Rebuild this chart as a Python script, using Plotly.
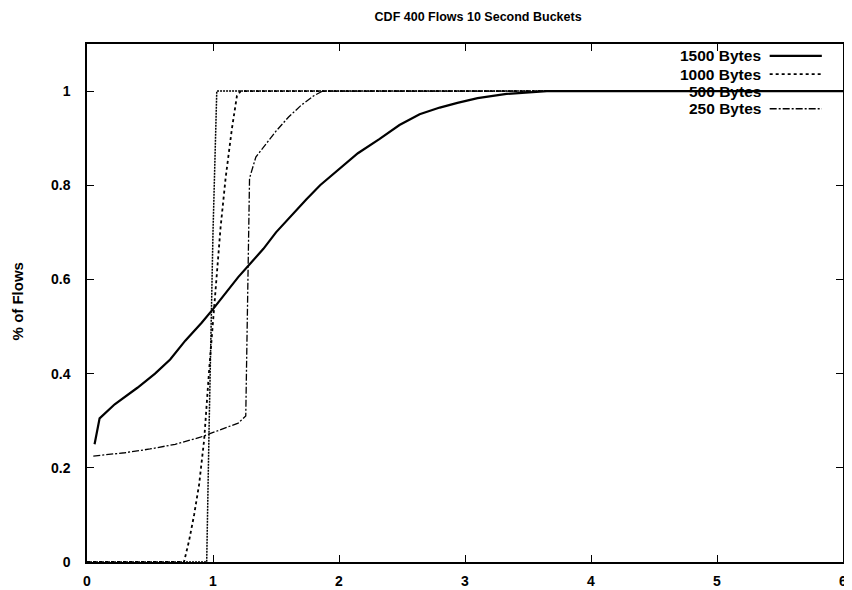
import plotly.graph_objects as go

# ---- data ----
x_1500 = [0.06, 0.10, 0.22, 0.30, 0.40, 0.54, 0.66, 0.78, 0.91, 1.00, 1.08, 1.20, 1.30, 1.40,
          1.50, 1.60, 1.74, 1.85, 2.00, 2.15, 2.32, 2.48, 2.64, 2.80, 2.94, 3.10, 3.33, 3.50, 3.65, 4.0, 6.0]
y_1500 = [0.25, 0.305, 0.335, 0.35, 0.37, 0.40, 0.43, 0.47, 0.508, 0.537, 0.565, 0.605, 0.635, 0.665,
          0.70, 0.73, 0.77, 0.80, 0.834, 0.868, 0.898, 0.928, 0.951, 0.965, 0.975, 0.985, 0.994, 0.998, 1.0, 1.0, 1.0]

x_1000 = [0.0, 0.77, 0.81, 0.85, 0.89, 0.93, 0.97, 1.01, 1.06, 1.10, 1.15, 1.19, 1.22, 6.0]
y_1000 = [0.0, 0.0, 0.045, 0.10, 0.165, 0.26, 0.41, 0.55, 0.71, 0.815, 0.92, 0.99, 1.0, 1.0]

x_500 = [0.0, 0.95, 0.97, 1.00, 1.03, 6.0]
y_500 = [0.0, 0.0, 0.30, 0.70, 1.0, 1.0]

x_250 = [0.05, 0.30, 0.50, 0.70, 0.90, 1.00, 1.10, 1.20, 1.26, 1.27, 1.29, 1.34, 1.40, 1.50,
         1.60, 1.70, 1.80, 1.87, 6.0]
y_250 = [0.225, 0.232, 0.24, 0.25, 0.265, 0.275, 0.285, 0.295, 0.31, 0.50, 0.815, 0.86, 0.88, 0.915,
         0.945, 0.97, 0.99, 1.0, 1.0]

series_names = ["1500 Bytes", "1000 Bytes", "500 Bytes", "250 Bytes"]
x_ticks = [0, 1, 2, 3, 4, 5, 6]
y_ticks = [0, 0.2, 0.4, 0.6, 0.8, 1.0]
y_tick_text = ["0", "0.2", "0.4", "0.6", "0.8", "1"]

# ---- styles ----
styles = [
    dict(width=2.2, dash="solid"),
    dict(width=1.8, dash="3px,3px"),
    dict(width=1.5, dash="2px,1px"),
    dict(width=1.3, dash="7px,2px,2px,2px"),
]
FONT = "Liberation Sans, Arial, sans-serif"

fig = go.Figure()
for (xs, ys), name, st in zip([(x_1500, y_1500), (x_1000, y_1000), (x_500, y_500), (x_250, y_250)],
                              series_names, styles):
    fig.add_trace(go.Scatter(x=xs, y=ys, mode="lines", name=name,
                             line=dict(color="black", **st), showlegend=False))

# custom gnuplot-style legend (text right, sample line to its right)
leg_y = [0.977, 0.942, 0.909, 0.875]
for name, st, ly in zip(series_names, styles, leg_y):
    fig.add_annotation(x=0.894, y=ly, xref="paper", yref="paper", text=name,
                       showarrow=False, xanchor="right", yanchor="middle",
                       font=dict(family=FONT, size=15.5, color="black", weight="bold"))
    fig.add_shape(type="line", xref="paper", yref="paper", x0=0.903, x1=0.972, y0=ly, y1=ly,
                  line=dict(color="black", **st))

fig.add_annotation(x=-0.092, y=0.504, xref="paper", yref="paper", text="% of Flows",
                   showarrow=False, textangle=-90, xanchor="center", yanchor="middle",
                   font=dict(family=FONT, size=15, color="black", weight="bold"))

# page body has an 8px margin, so the figure is sized to fit inside the window
fig.update_layout(
    width=844, height=582,
    margin=dict(l=79, r=9, t=36, b=28, autoexpand=False),
    paper_bgcolor="white", plot_bgcolor="white",
    title=dict(text="CDF 400 Flows 10 Second Buckets", x=0.557, xanchor="center", y=0.9845, yanchor="middle",
               automargin=False,
               font=dict(family=FONT, size=12.5, color="black", weight="bold")),
    xaxis=dict(range=[0, 6], tickvals=x_ticks, ticks="inside", ticklen=7, tickcolor="black",
               showline=True, linecolor="black", linewidth=1.5, mirror="ticks", showgrid=False,
               zeroline=False, ticklabelstandoff=5, automargin=False, ticklabeloverflow="allow",
               tickfont=dict(family=FONT, size=14, color="black", weight="bold")),
    yaxis=dict(range=[0, 1.1], tickvals=y_ticks, ticktext=y_tick_text, ticks="inside", ticklen=7,
               tickcolor="black", showline=True, linecolor="black", linewidth=1.5, mirror="ticks",
               showgrid=False, zeroline=False, ticklabelstandoff=12, automargin=False,
               ticklabeloverflow="allow",
               tickfont=dict(family=FONT, size=14, color="black", weight="bold")),
)

fig.write_html("out.html")
